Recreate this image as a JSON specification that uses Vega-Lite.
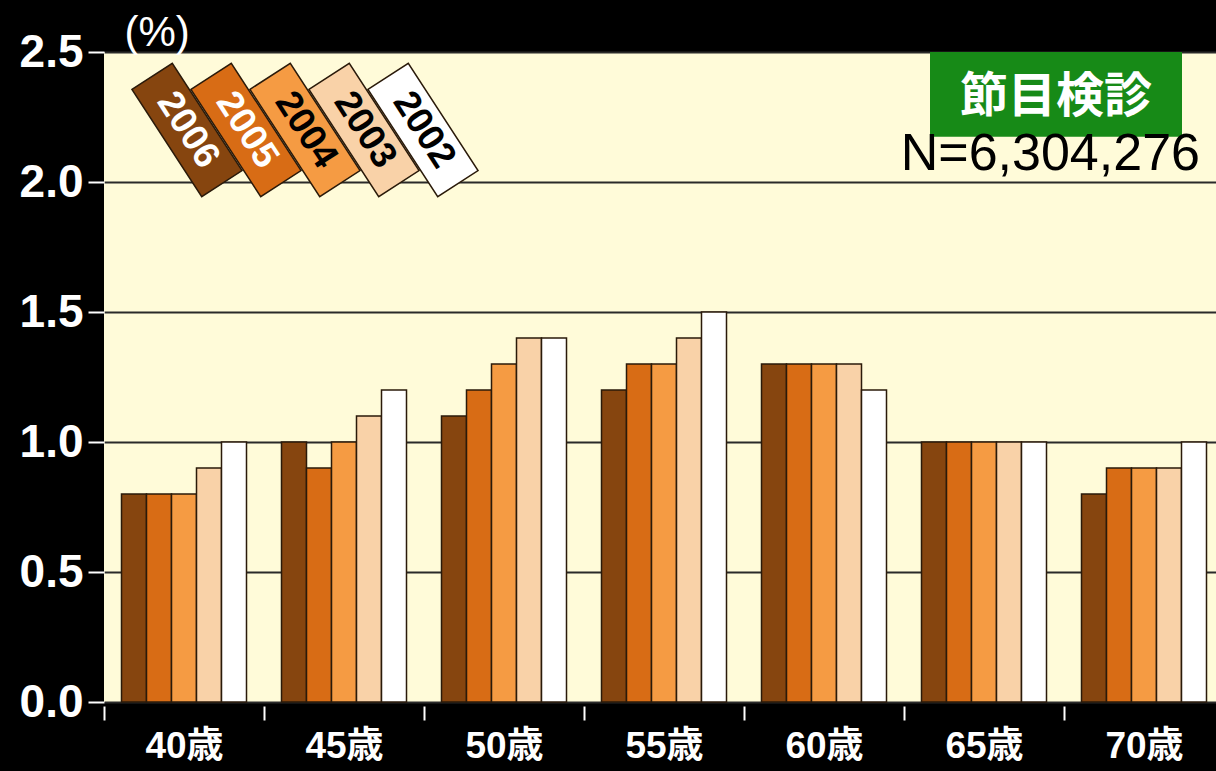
{
  "$schema": "https://vega.github.io/schema/vega-lite/v6.json",
  "autosize": "none",
  "padding": {"left": 104, "top": 52, "right": 0, "bottom": 69},
  "width": 1120,
  "height": 650,
  "background": "#000000",
  "config": {
    "view": {"fill": "#FFFBD9", "stroke": null},
    "font": "Liberation Sans",
    "legend": {"columnPadding": -65, "gridAlign": "none"}
  },
  "datasets": {
    "bars": [
      {"age": "40歳", "year": "2006", "value": 0.8},
      {"age": "40歳", "year": "2005", "value": 0.8},
      {"age": "40歳", "year": "2004", "value": 0.8},
      {"age": "40歳", "year": "2003", "value": 0.9},
      {"age": "40歳", "year": "2002", "value": 1.0},
      {"age": "45歳", "year": "2006", "value": 1.0},
      {"age": "45歳", "year": "2005", "value": 0.9},
      {"age": "45歳", "year": "2004", "value": 1.0},
      {"age": "45歳", "year": "2003", "value": 1.1},
      {"age": "45歳", "year": "2002", "value": 1.2},
      {"age": "50歳", "year": "2006", "value": 1.1},
      {"age": "50歳", "year": "2005", "value": 1.2},
      {"age": "50歳", "year": "2004", "value": 1.3},
      {"age": "50歳", "year": "2003", "value": 1.4},
      {"age": "50歳", "year": "2002", "value": 1.4},
      {"age": "55歳", "year": "2006", "value": 1.2},
      {"age": "55歳", "year": "2005", "value": 1.3},
      {"age": "55歳", "year": "2004", "value": 1.3},
      {"age": "55歳", "year": "2003", "value": 1.4},
      {"age": "55歳", "year": "2002", "value": 1.5},
      {"age": "60歳", "year": "2006", "value": 1.3},
      {"age": "60歳", "year": "2005", "value": 1.3},
      {"age": "60歳", "year": "2004", "value": 1.3},
      {"age": "60歳", "year": "2003", "value": 1.3},
      {"age": "60歳", "year": "2002", "value": 1.2},
      {"age": "65歳", "year": "2006", "value": 1.0},
      {"age": "65歳", "year": "2005", "value": 1.0},
      {"age": "65歳", "year": "2004", "value": 1.0},
      {"age": "65歳", "year": "2003", "value": 1.0},
      {"age": "65歳", "year": "2002", "value": 1.0},
      {"age": "70歳", "year": "2006", "value": 0.8},
      {"age": "70歳", "year": "2005", "value": 0.9},
      {"age": "70歳", "year": "2004", "value": 0.9},
      {"age": "70歳", "year": "2003", "value": 0.9},
      {"age": "70歳", "year": "2002", "value": 1.0}
    ],
    "notes": [
      {"label": "節目検診", "n": "N=6,304,276"}
    ]
  },
  "layer": [
    {
      "data": {"name": "bars"},
      "mark": {"type": "bar", "stroke": "#2a1a0a", "strokeWidth": 1.5},
      "encoding": {
        "x": {
          "field": "age", "type": "nominal", "sort": null,
          "scale": {"paddingInner": 0, "paddingOuter": 0},
          "axis": {
            "title": null, "labelAngle": 0, "domain": false,
            "labelColor": "#ffffff", "labelFont": "Liberation Sans, Noto Sans CJK JP",
            "labelFontSize": 37, "labelFontWeight": "bold", "labelPadding": 8,
            "tickBand": "extent", "tickColor": "#ffffff", "tickSize": 14, "tickWidth": 2,
            "offset": 4
          }
        },
        "xOffset": {
          "field": "year", "type": "nominal",
          "sort": ["2006", "2005", "2004", "2003", "2002"],
          "scale": {"paddingInner": 0, "paddingOuter": 0.7}
        },
        "y": {
          "field": "value", "type": "quantitative",
          "scale": {"domain": [0, 2.5], "nice": false},
          "axis": {
            "title": "(%)", "titleAngle": 0, "titleX": 20, "titleY": -7,
            "titleAlign": "left", "titleBaseline": "alphabetic",
            "titleColor": "#ffffff", "titleFontSize": 42, "titleFontWeight": "normal",
            "titleFont": "Liberation Sans",
            "values": [0, 0.5, 1, 1.5, 2, 2.5], "format": ".1f",
            "labelColor": "#ffffff", "labelFontSize": 46, "labelFontWeight": "bold",
            "labelPadding": 5, "tickColor": "#ffffff", "tickSize": 16, "tickWidth": 2,
            "domain": false, "grid": true, "gridColor": "#2a2a2a", "gridWidth": 2
          }
        },
        "color": {
          "field": "year", "type": "nominal",
          "scale": {
            "domain": ["2006", "2005", "2004", "2003", "2002"],
            "range": ["#86450F", "#D86C15", "#F59B43", "#F9D2A8", "#FFFFFF"]
          },
          "legend": {
            "title": null, "orient": "none", "direction": "horizontal",
            "legendX": 18, "legendY": 13, "columns": 5,
            "symbolType": "M-0.86,-0.635L-0.23,-1.043L0.86,0.635L0.23,1.043Z",
            "symbolSize": 16384, "symbolStrokeColor": "#2a1a0a", "symbolStrokeWidth": 1.5,
            "symbolOpacity": 1,
            "labelOffset": -64, "labelAlign": "center", "labelBaseline": "middle",
            "labelFontSize": 37, "labelFontWeight": "bold", "labelFont": "Liberation Sans",
            "columnPadding": -65, "gridAlign": "none",
            "encoding": {
              "labels": {
                "angle": {"value": 57},
                "fill": {"condition": {"test": "datum.value == '2006' || datum.value == '2005'", "value": "#ffffff"}, "value": "#000000"}
              }
            }
          }
        }
      }
    },
    {
      "data": {"name": "notes"},
      "mark": {
        "type": "point", "filled": true, "opacity": 1, "color": "#178A17",
        "shape": "M-1,-0.337L1,-0.337L1,0.337L-1,0.337Z", "size": 63504
      },
      "encoding": {
        "x": {"datum": "70歳", "bandPosition": -0.05},
        "y": {"datum": 2.337}
      }
    },
    {
      "data": {"name": "notes"},
      "mark": {
        "type": "text", "color": "#ffffff", "fontSize": 48, "fontWeight": "bold",
        "font": "Noto Sans CJK JP", "align": "center", "baseline": "middle"
      },
      "encoding": {
        "x": {"datum": "70歳", "bandPosition": -0.05},
        "y": {"datum": 2.325},
        "text": {"field": "label"}
      }
    },
    {
      "data": {"name": "notes"},
      "mark": {
        "type": "text", "color": "#000000", "fontSize": 52,
        "font": "Liberation Sans", "align": "right", "baseline": "alphabetic"
      },
      "encoding": {
        "x": {"datum": "70歳", "bandPosition": 0.85},
        "y": {"datum": 2.046},
        "text": {"field": "n"}
      }
    }
  ]
}
